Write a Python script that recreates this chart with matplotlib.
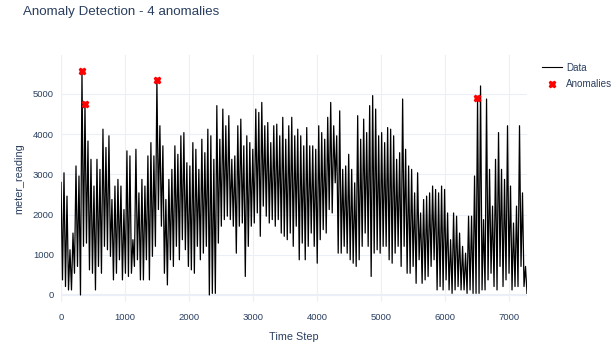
import numpy as np
import matplotlib
matplotlib.use("Agg")
import matplotlib.pyplot as plt

# ─── Data (peak / trough of each ~47-step slice) ─────────────────────────────
LAST_STEP = 7276

HIGHS = [
    # 0 – 1130
    2800, 3040, 2460, 1125, 1540, 3210, 2960, 5575, 4750, 3830, 3375, 2710, 3375,
    3125, 4125, 3670, 3960, 2375, 2710, 2875, 2710, 2125, 3585, 3460, 1375,
    # 1170 – 2300
    3625, 2540, 2875, 2710, 3460, 3790, 3460, 5350, 4210, 3710, 2375, 2875, 3125,
    3710, 3500, 3960, 4040, 3290, 3210, 3790, 3625, 3125, 3875, 3540, 4125,
    # 2340 – 3470
    3960, 3375, 4710, 3875, 4625, 4210, 4460, 3375, 3460, 4210, 4375, 3710, 3960,
    3790, 3625, 4625, 4540, 4790, 4210, 4290, 3790, 4210, 4250, 3960, 4420,
    # 3510 – 4640
    3875, 4210, 4420, 3960, 4125, 3960, 3710, 4165, 3710, 3710, 3625, 4210, 4040,
    3875, 4420, 4790, 4210, 3960, 4580, 3125, 3210, 3500, 3125, 2790, 4460,
    # 4680 – 5810
    3875, 4375, 4040, 4710, 4960, 4625, 3960, 4040, 3790, 4165, 4125, 3960, 3375,
    3540, 4875, 3625, 3210, 3125, 2540, 3040, 2040, 2375, 2460, 2540, 2710,
    # 5860 – 7276
    2625, 2540, 2710, 2625, 2040, 1375, 2040, 1960, 1540, 1210, 1040, 1960, 1960,
    2960, 4900, 5200, 1875, 4875, 3125, 2210, 3375, 4040, 3125, 2875, 4210, 2710,
    1790, 2210, 4210, 2540, 710,
]

LOWS = [
    375, 210, 125, 125, 540, 710, 0, 1210, 1290, 625, 540, 125, 710,
    540, 1210, 1125, 960, 375, 540, 875, 375, 540, 460, 540, 710,
    875, 375, 375, 875, 375, 960, 1210, 2125, 1710, 540, 250, 875, 710,
    1210, 875, 1375, 1125, 710, 625, 540, 1210, 875, 1040, 1210, 0,
    40, 40, 1290, 1710, 1875, 1960, 1875, 1710, 1040, 1710, 1790, 460, 1210,
    1710, 1790, 2040, 1460, 2210, 1960, 1790, 1875, 1710, 1875, 1540, 1460,
    1375, 1540, 1210, 1710, 875, 1290, 875, 1210, 1540, 1210, 790, 1375, 1625,
    1540, 2125, 2040, 2790, 1040, 1040, 1210, 1040, 875, 790, 710, 875,
    1210, 1540, 1210, 460, 1040, 1125, 1040, 1210, 1210, 875, 790, 1040, 1210,
    710, 1210, 540, 540, 710, 290, 875, 290, 375, 460, 710, 875,
    125, 210, 125, 375, 125, 40, 125, 210, 125, 125, 40, 125, 40,
    40, 40, 125, 125, 375, 540, 210, 125, 710, 210, 375, 540, 125,
    210, 210, 710, 210, 40,
]

ANOMALY_STEPS = [327, 374, 1497, 6503]
ANOMALY_VALUES = [5575, 4750, 5350, 4900]

TITLE = f"Anomaly Detection - {len(ANOMALY_STEPS)} anomalies"
X_TICKS = [0, 1000, 2000, 3000, 4000, 5000, 6000, 7000]
Y_TICKS = [0, 1000, 2000, 3000, 4000, 5000]

# ─── Figure ──────────────────────────────────────────────────────────────────
plt.rcParams["font.family"] = ["Liberation Sans", "DejaVu Sans"]
TXT = "#2a3f5f"
GRID = "#ebf0f8"

W, H = 613, 347
fig = plt.figure(figsize=(W / 100, H / 100), dpi=100)
ax = fig.add_axes([61 / W, 1 - 302 / H, (527 - 61) / W, (302 - 55) / H])

series = np.empty(len(HIGHS) * 2)
series[0::2] = HIGHS
series[1::2] = LOWS
steps = np.linspace(0, LAST_STEP, len(series))

ax.plot(steps, series, color="black", lw=0.9, label="Data", zorder=3)
ax.plot(ANOMALY_STEPS, ANOMALY_VALUES, ls="none", marker="X", ms=4.6,
        color="red", mec="red", label="Anomalies", zorder=4)

ax.set_xlim(0, LAST_STEP)
ax.set_ylim(-175, 5970)
ax.set_xticks(X_TICKS)
ax.set_yticks(Y_TICKS)
ax.grid(True, color=GRID, lw=0.75, zorder=0)
ax.axhline(0, color=GRID, lw=1.5, zorder=1)
ax.axvline(0, color=GRID, lw=1.5, zorder=1)
for s in ax.spines.values():
    s.set_visible(False)
ax.tick_params(length=0, labelsize=6.8, colors=TXT)
ax.tick_params(axis="x", pad=8)
ax.tick_params(axis="y", pad=5)

ax.set_xlabel("Time Step", fontsize=7.8, color=TXT, labelpad=7)
ax.set_ylabel("meter_reading", fontsize=7.8, color=TXT, labelpad=6)

fig.text(23 / W, 1 - 12 / H, TITLE, fontsize=9.6, color=TXT,
         ha="left", va="center")

leg = ax.legend(loc="upper left", bbox_to_anchor=(538 / W, 1 - 59 / H),
                bbox_transform=fig.transFigure, frameon=False,
                fontsize=7.1, handlelength=2.0, handletextpad=0.45,
                labelspacing=0.62, borderaxespad=0)
leg.get_lines()[0].set_linewidth(0.8)
for t in leg.get_texts():
    t.set_color(TXT)

fig.savefig("out.png", dpi=100)
